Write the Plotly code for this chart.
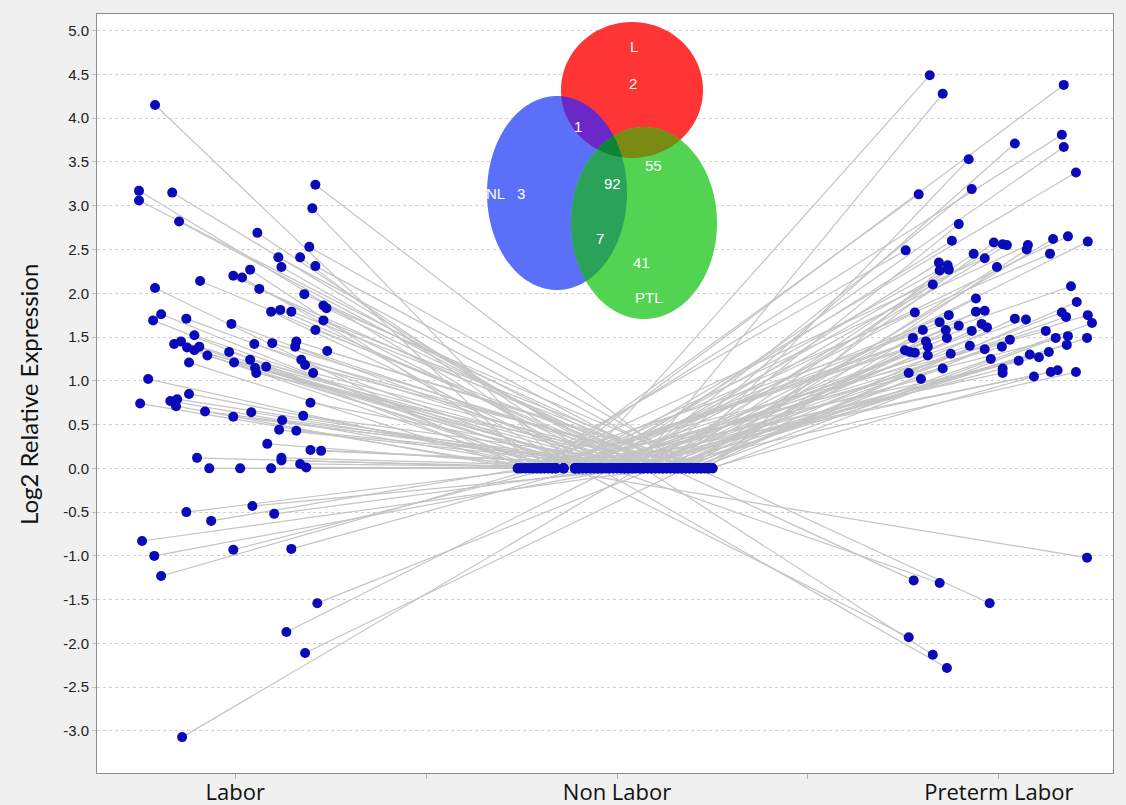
import numpy as np
import plotly.graph_objects as go

# ---------------- data ----------------
categories = ["Labor", "Non Labor", "Preterm Labor"]

# Labor group: jitter offset (within category) and log2 relative expression
labor_jitter = [-0.210, -0.252, -0.252, -0.165, 0.210, 0.202, -0.147, 0.058, 0.194, 0.113,
                0.170, 0.121, 0.210, 0.039, -0.005, 0.018, -0.092, -0.210, 0.063, 0.181,
                0.231, 0.239, 0.094, 0.118, 0.147, -0.194, -0.215, -0.128, -0.010, 0.231,
                0.210, -0.107, -0.160, -0.142, -0.126, -0.107, -0.094, 0.050, 0.097, 0.160,
                0.157, 0.241, -0.073, -0.016, -0.003, 0.039, -0.121, 0.052, 0.055, 0.081,
                0.173, 0.183, 0.204, -0.228, 0.197, -0.121, -0.249, -0.170, -0.152, -0.155,
                -0.079, -0.005, 0.042, 0.123, 0.178, 0.115, 0.160, 0.084, 0.197, 0.225,
                -0.100, 0.121, 0.121, 0.170, 0.186, -0.068, 0.013, 0.094, 0.045, -0.128,
                -0.063, 0.102, -0.244, -0.005, -0.212, 0.147, -0.194, 0.215, 0.134, 0.183,
                -0.139]
labor_y = [4.15, 3.17, 3.06, 3.15, 3.24, 2.97, 2.82, 2.69, 2.53, 2.41,
           2.41, 2.30, 2.31, 2.27, 2.20, 2.18, 2.14, 2.06, 2.05, 1.99,
           1.86, 1.83, 1.79, 1.81, 1.79, 1.76, 1.69, 1.71, 1.65, 1.69,
           1.58, 1.52, 1.42, 1.45, 1.38, 1.35, 1.39, 1.42, 1.43, 1.45,
           1.39, 1.34, 1.29, 1.33, 1.21, 1.24, 1.21, 1.15, 1.09, 1.16,
           1.24, 1.18, 1.09, 1.02, 0.75, 0.85, 0.74, 0.77, 0.79, 0.71,
           0.65, 0.59, 0.64, 0.55, 0.60, 0.44, 0.43, 0.28, 0.21, 0.20,
           0.12, 0.12, 0.09, 0.05, 0.01, 0.00, 0.00, 0.00, -0.43, -0.50,
           -0.60, -0.52, -0.83, -0.93, -1.00, -0.92, -1.23, -1.54, -1.87, -2.11,
           -3.07]
# Non Labor partner position (jitter) for each Labor gene
labor_nl_jitter = [-0.21, -0.05, 0.12, 0.03, 0.18, -0.14, 0.07, -0.02, 0.22, 0.15,
                   -0.09, 0.05, 0.20, -0.17, 0.01, -0.11, 0.09, -0.24, 0.13, 0.17,
                   0.24, 0.11, -0.04, 0.06, 0.19, -0.19, -0.23, -0.07, 0.02, 0.21,
                   0.14, -0.10, -0.20, -0.16, -0.01, 0.04, -0.08, 0.08, 0.16, 0.23,
                   0.12, 0.25, -0.11, -0.03, 0.00, 0.10, -0.25, -0.06, 0.18, 0.07,
                   0.20, 0.22, 0.15, -0.18, 0.09, -0.10, -0.22, -0.16, 0.03, -0.26,
                   0.05, 0.11, -0.02, 0.14, 0.19, 0.06, 0.17, -0.08, 0.24, 0.21,
                   -0.14, 0.13, 0.01, 0.16, 0.23, -0.11, 0.04, -0.05, 0.08, -0.20,
                   -0.24, 0.00, 0.12, -0.17, 0.02, -0.09, -0.21, 0.10, -0.01, 0.18,
                   0.06]

# Preterm Labor group
preterm_jitter = [-0.181, -0.147, 0.170, 0.042, 0.165, 0.170, -0.079, 0.202, -0.071, -0.210,
                  -0.105, -0.123, -0.244, -0.013, 0.010, 0.021, 0.076, 0.073, 0.142, 0.181,
                  0.233, 0.134, -0.066, -0.037, -0.005, -0.157, -0.134, -0.155, -0.131, -0.173,
                  0.189, -0.060, 0.204, -0.220, -0.131, -0.060, -0.037, 0.165, 0.176, 0.233,
                  0.244, -0.155, -0.105, -0.045, -0.031, 0.042, 0.071, -0.199, -0.139, -0.136,
                  -0.071, 0.123, -0.225, -0.191, -0.186, 0.029, 0.008, 0.149, 0.181, 0.178,
                  0.231, -0.076, -0.037, -0.246, -0.233, -0.220, -0.126, -0.186, 0.131, 0.081,
                  0.105, -0.021, 0.052, -0.236, -0.204, -0.147, 0.010, 0.010, 0.092, 0.136,
                  0.154, 0.202, 0.231, -0.223, -0.155, -0.024, -0.236, -0.173, -0.136]
preterm_y = [4.49, 4.28, 4.38, 3.71, 3.81, 3.67, 3.53, 3.38, 3.19, 3.13,
             2.79, 2.60, 2.49, 2.58, 2.56, 2.55, 2.55, 2.50, 2.62, 2.65,
             2.59, 2.45, 2.45, 2.40, 2.30, 2.35, 2.32, 2.26, 2.27, 2.10,
             2.08, 1.94, 1.90, 1.78, 1.75, 1.79, 1.80, 1.78, 1.73, 1.75,
             1.66, 1.67, 1.63, 1.65, 1.61, 1.71, 1.70, 1.58, 1.58, 1.49,
             1.57, 1.57, 1.49, 1.45, 1.39, 1.47, 1.39, 1.49, 1.51, 1.41,
             1.49, 1.40, 1.36, 1.35, 1.33, 1.32, 1.31, 1.29, 1.33, 1.30,
             1.27, 1.25, 1.23, 1.09, 1.02, 1.14, 1.14, 1.09, 1.05, 1.10,
             1.12, 1.10, -1.02, -1.28, -1.31, -1.54, -1.93, -2.13, -2.28]
preterm_nl_jitter = [-0.10, 0.045, -0.18, 0.08, -0.22, -0.04, 0.15, -0.11, 0.02, -0.20,
                     0.11, -0.07, -0.25, 0.19, -0.01, 0.06, -0.17, 0.22, 0.13, -0.09,
                     0.04, -0.17, 0.09, -0.23, 0.17, 0.00, -0.10, 0.24, -0.05, 0.12,
                     -0.19, 0.07, 0.20, -0.02, -0.14, 0.16, -0.26, 0.10, 0.03, -0.08,
                     0.21, -0.11, 0.14, -0.21, 0.05, 0.18, -0.03, 0.23, -0.16, 0.01,
                     0.11, -0.24, 0.08, 0.15, -0.06, 0.19, -0.10, 0.25, -0.18, 0.02,
                     0.13, -0.09, 0.06, -0.20, 0.17, -0.01, 0.22, -0.14, 0.04, 0.10,
                     -0.22, 0.16, -0.04, 0.20, -0.07, 0.12, 0.03, -0.16, 0.24, -0.11,
                     -0.06, 0.09, -0.19, 0.14, -0.02, 0.21, -0.11, 0.07, -0.05]

y_tick_vals = [-3.0, -2.5, -2.0, -1.5, -1.0, -0.5, 0.0, 0.5, 1.0, 1.5, 2.0, 2.5, 3.0, 3.5, 4.0, 4.5, 5.0]
y_tick_text = ["%.1f" % v for v in y_tick_vals]
x_tick_vals = [0, 0.5, 1, 1.5, 2]

# Venn diagram counts
venn_sets = ["L", "NL", "PTL"]
venn_counts = {"L": 2, "NL": 3, "PTL": 41, "L&NL": 1, "L&PTL": 55, "NL&PTL": 7, "L&NL&PTL": 92}

# ---------------- figure ----------------
X_LAB, X_NL, X_PTL = 0, 1, 2
X_RANGE = [-0.362, 2.299]

lx, ly = [], []
for j, y, nj in zip(labor_jitter, labor_y, labor_nl_jitter):
    lx += [X_LAB + j, X_NL + nj, None]
    ly += [y, 0.0, None]
for j, y, nj in zip(preterm_jitter, preterm_y, preterm_nl_jitter):
    lx += [X_NL + nj, X_PTL + j, None]
    ly += [0.0, y, None]

fig = go.Figure()
fig.add_trace(go.Scatter(x=lx, y=ly, mode="lines",
                         line=dict(color="#c4c4c4", width=1.2),
                         hoverinfo="skip", showlegend=False))

mx = ([X_LAB + j for j in labor_jitter] + [X_NL + j for j in labor_nl_jitter] +
      [X_NL + j for j in preterm_nl_jitter] + [X_PTL + j for j in preterm_jitter])
my = labor_y + [0.0] * len(labor_nl_jitter) + [0.0] * len(preterm_nl_jitter) + preterm_y
fig.add_trace(go.Scatter(x=mx, y=my, mode="markers",
                         marker=dict(color="#0a0ab8", size=10, line=dict(width=0)),
                         showlegend=False))
# empty trace carrying the tick-mark overlay axis
fig.add_trace(go.Scatter(x=[None], y=[None], xaxis="x2", yaxis="y",
                         showlegend=False, hoverinfo="skip"))

# ---------------- layout geometry ----------------
W, H = 1126, 805
ML, MR, MT, MB = 97, 13, 14, 32
PW, PH = W - ML - MR, H - MT - MB


def to_paper(px, py):
    return (px - ML) / PW, (H - MB - py) / PH


def ellipse(cx, cy, rx, ry, n=180):
    t = np.linspace(0, 2 * np.pi, n, endpoint=False)
    return [(cx + rx * np.cos(a), cy + ry * np.sin(a)) for a in t]


def signed_area(p):
    return sum(p[i][0] * p[(i + 1) % len(p)][1] - p[(i + 1) % len(p)][0] * p[i][1]
               for i in range(len(p)))


def clip(subject, clipper):
    s = 1 if signed_area(clipper) > 0 else -1
    out = list(subject)
    for i in range(len(clipper)):
        a = clipper[i]
        b = clipper[(i + 1) % len(clipper)]
        inp, out = out, []
        if not inp:
            break

        def inside(p):
            return s * ((b[0] - a[0]) * (p[1] - a[1]) - (b[1] - a[1]) * (p[0] - a[0])) >= 0

        def inter(p, q):
            x1, y1 = p
            x2, y2 = q
            x3, y3 = a
            x4, y4 = b
            den = (x1 - x2) * (y3 - y4) - (y1 - y2) * (x3 - x4)
            t = ((x1 - x3) * (y3 - y4) - (y1 - y3) * (x3 - x4)) / den
            return (x1 + t * (x2 - x1), y1 + t * (y2 - y1))

        prev = inp[-1]
        for cur in inp:
            if inside(cur):
                if not inside(prev):
                    out.append(inter(prev, cur))
                out.append(cur)
            elif inside(prev):
                out.append(inter(prev, cur))
            prev = cur
    return out


def path(poly):
    pts = [to_paper(x, y) for x, y in poly]
    return "M " + " L ".join("%.5f,%.5f" % p for p in pts) + " Z"


E_L = ellipse(632, 90, 71, 68)
E_NL = ellipse(557, 193, 70, 97)
E_PTL = ellipse(644, 223, 73, 96)

regions = [
    (E_NL, "#5b70f8"),
    (E_L, "#ff3535"),
    (E_PTL, "#52d452"),
    (clip(E_L, E_NL), "#6a28c8"),
    (clip(E_L, E_PTL), "#7a8b14"),
    (clip(E_NL, E_PTL), "#2aa25a"),
    (clip(clip(E_L, E_NL), E_PTL), "#0b8436"),
]
shapes = []
for poly, col in regions:
    shapes.append(dict(type="path", xref="paper", yref="paper", path=path(poly),
                       fillcolor=col, line=dict(width=0), layer="above"))

venn_text = [
    ("L", 634, 46), (str(venn_counts["L"]), 633, 84), (str(venn_counts["L&NL"]), 578, 127),
    (str(venn_counts["L&PTL"]), 653, 165), (str(venn_counts["L&NL&PTL"]), 612, 183),
    ("NL", 495, 194), (str(venn_counts["NL"]), 521, 194), (str(venn_counts["NL&PTL"]), 600, 238),
    (str(venn_counts["PTL"]), 641, 262), ("PTL", 649, 297),
]
annotations = []
for txt, px, py in venn_text:
    x, y = to_paper(px, py)
    annotations.append(dict(text=txt, x=x, y=y, xref="paper", yref="paper",
                            showarrow=False, xanchor="center", yanchor="middle",
                            font=dict(family="Liberation Sans, Arial", size=15, color="white")))

ax, ay = to_paper(28, 395)
annotations.append(dict(text="Log2 Relative Expression", x=ax, y=ay, xref="paper", yref="paper",
                        showarrow=False, textangle=-90, xanchor="center", yanchor="middle",
                        font=dict(family="Lato", size=24, color="#111111")))

fig.update_layout(
    width=W, height=H,
    margin=dict(l=ML, r=MR, t=MT, b=MB, autoexpand=False),
    paper_bgcolor="#f0f0f0", plot_bgcolor="white",
    shapes=shapes, annotations=annotations,
    xaxis=dict(range=X_RANGE, tickvals=x_tick_vals,
               ticktext=[categories[0], "", categories[1], "", categories[2]],
               showgrid=False, zeroline=False, showline=True, linecolor="#8c8c8c",
               linewidth=1, mirror=True, ticks="",
               tickfont=dict(family="Open Sans", size=22, color="#111111"), automargin=False),
    xaxis2=dict(range=X_RANGE, tickvals=x_tick_vals, overlaying="x", anchor="y", side="bottom",
                showgrid=False, zeroline=False, showline=False, showticklabels=False,
                ticks="outside", ticklen=5, tickcolor="#b0b0b0"),
    yaxis=dict(range=[-3.48, 5.19], tickvals=y_tick_vals, ticktext=y_tick_text,
               showgrid=True, gridcolor="#cfcfcf", griddash="dot", gridwidth=1,
               zeroline=False, showline=True, linecolor="#8c8c8c", linewidth=1, mirror=True,
               ticks="outside", ticklen=4, tickcolor="#c0c0c0",
               tickfont=dict(family="Liberation Sans, Arial", size=15, color="#222222"),
               automargin=False),
)

fig.write_html("out.html", config={"displayModeBar": False},
               post_script="document.body.style.margin='0';document.body.style.background='#f0f0f0';")
